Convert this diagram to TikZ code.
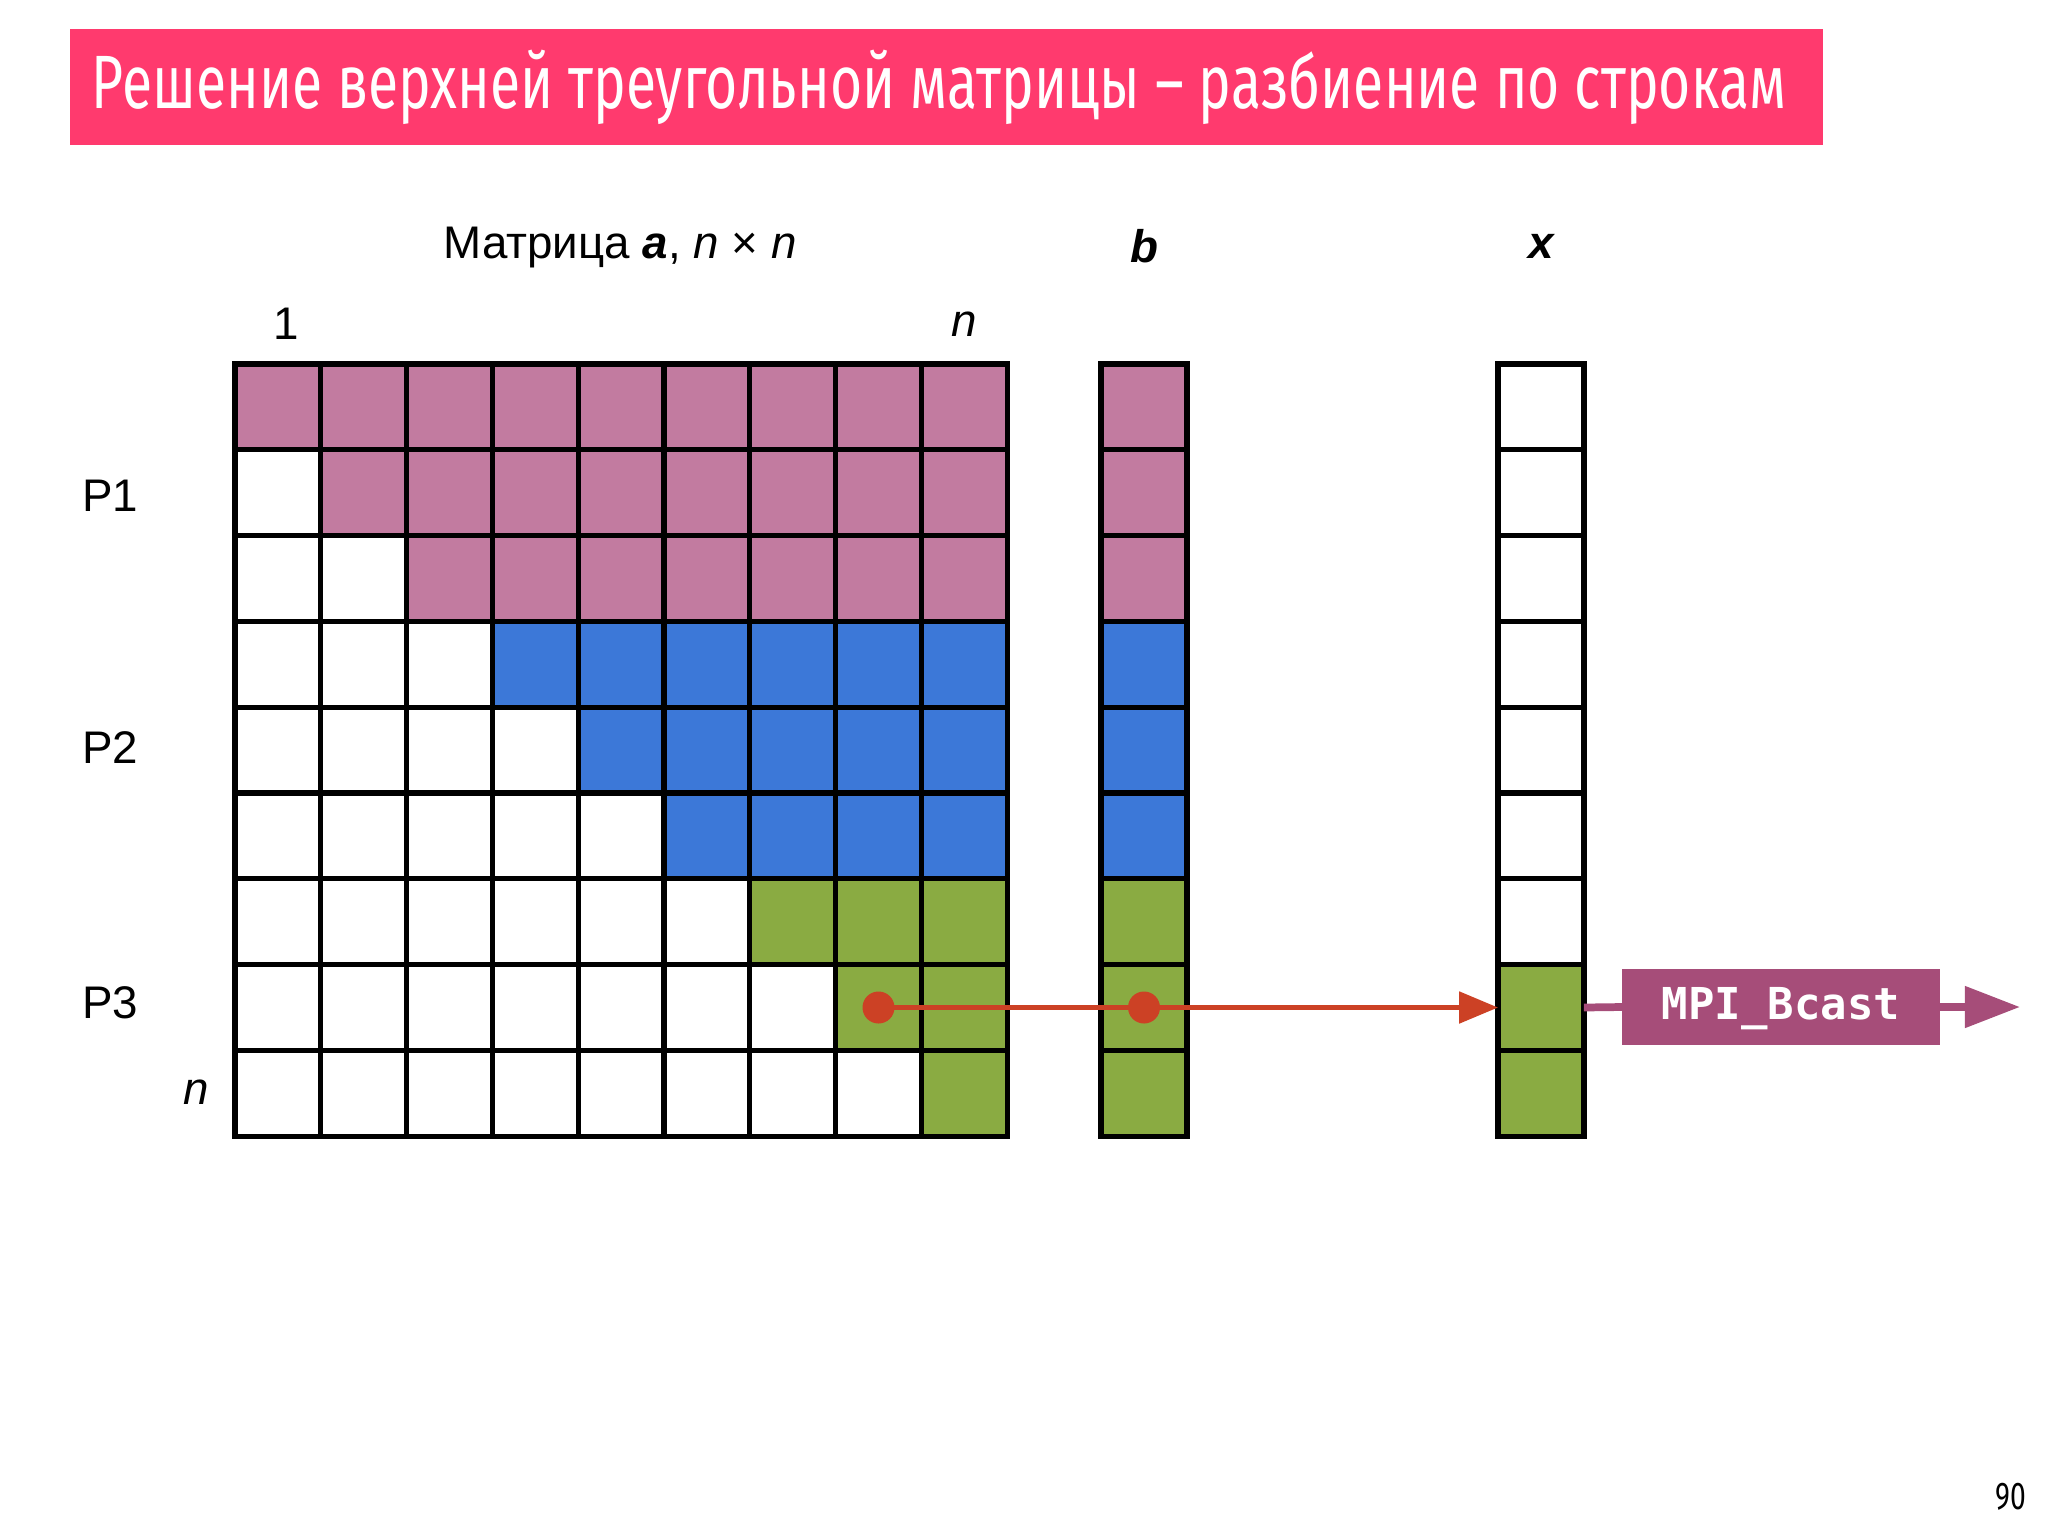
\documentclass[tikz,border=0pt]{standalone}
\usepackage{fontspec}
\setmainfont{Liberation Sans}
\setmonofont{DejaVu Sans Mono}
\newfontfamily\titlefont[FakeStretch=0.73]{Fira Sans}
\usetikzlibrary{arrows.meta}
\definecolor{titlepink}{HTML}{FF3A6E}
\definecolor{rowA}{HTML}{C27BA0}
\definecolor{rowB}{HTML}{3C78D8}
\definecolor{rowC}{HTML}{8AAB42}
\definecolor{sendred}{HTML}{CC4125}
\definecolor{bcastviolet}{HTML}{A64D79}
\tikzset{
  cell/.style={draw=black, line width=1.5pt, minimum size=0.858cm, inner sep=0pt, outer sep=0pt},
  lbl/.style={font=\fontsize{13}{15}\selectfont, inner sep=0pt},
  dot/.style={circle, fill=sendred, minimum size=0.32cm, inner sep=0pt},
}
\begin{document}
\begin{tikzpicture}[x=0.01cm, y=-0.01cm]
\useasboundingbox (0,0) rectangle (2048,1536);
\pgfmathsetmacro\cellsz{85.8};
\pgfmathsetmacro\gx{235+\cellsz/2};
\pgfmathsetmacro\gy{364+\cellsz/2};
\node[fill=titlepink, text=white, anchor=west, minimum height=1.16cm, text width=17.08cm, inner xsep=0.22cm, align=left, font=\titlefont\fontsize{21.5}{24}\selectfont] (title) at (69,87) {\raisebox{-0.06cm}[0.6em][0.2em]{\spaceskip=0.2em Решение верхней треугольной матрицы – разбиение по строкам}};
\node[lbl] (alabel) at (620,248) {Матрица \textbf{\textit{a}}, \textit{n} × \textit{n}};
\node[lbl] (blabel) at (1144,246) {\textbf{\textit{b}}};
\node[lbl] (xlabel) at (1542,246) {\textbf{\textit{x}}};
\node[lbl] (colfirst) at (286,324) {1};
\node[lbl] (collast) at (964,324) {\textit{n}};
\node[lbl] (rowlast) at (196,1092) {\textit{n}};
\node[lbl] (p1) at (110,496) {P1};
\node[lbl] (p2) at (110,748) {P2};
\node[lbl] (p3) at (110,1003) {P3};
\node[font=\titlefont\fontsize{11}{13}\selectfont, inner sep=0pt] (page) at (2011,1497) {90};
% matrix a, vector b, vector x
\foreach \r/\clr in {0/rowA,1/rowA,2/rowA,3/rowB,4/rowB,5/rowB,6/rowC,7/rowC,8/rowC} {
  \foreach \c in {0,...,8} {
    \ifnum\c<\r \def\fc{white}\else \def\fc{\clr}\fi
    \node[cell, fill=\fc] (a-\r-\c) at ({\gx+\c*\cellsz},{\gy+\r*\cellsz}) {};
  }
  \node[cell, fill=\clr] (b-\r) at (1144,{\gy+\r*\cellsz}) {};
  \ifnum\r>6 \def\xc{rowC}\else \def\xc{white}\fi
  \node[cell, fill=\xc] (x-\r) at (1541,{\gy+\r*\cellsz}) {};
}
\draw[sendred, line width=1.5pt, -{Triangle[length=0.39cm, width=0.31cm]}] (a-7-7.center) -- (x-7.west);
\node[dot] (dota) at (a-7-7) {};
\node[dot] (dotb) at (b-7) {};
\draw[bcastviolet, line width=2.2pt] (x-7.east) -- (1623,1007);
\node[fill=bcastviolet, text=white, minimum width=3.17cm, minimum height=0.75cm, text height=0.73em, text depth=0pt, font=\ttfamily\bfseries\fontsize{12.5}{14}\selectfont] (bcast) at (1781,1007) {MPI\_Bcast};
\coordinate (bcastend) at (2020,1007);
\draw[bcastviolet, line width=2.2pt, -{Triangle[length=0.55cm, width=0.40cm]}] (bcast.east) -- (bcastend);
\end{tikzpicture}
\end{document}
